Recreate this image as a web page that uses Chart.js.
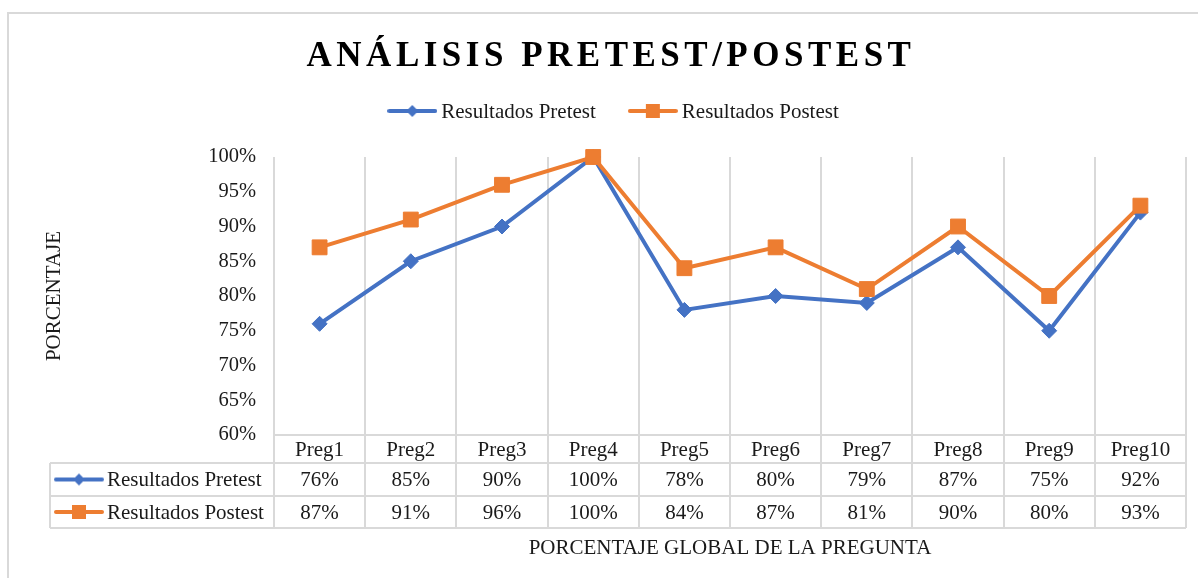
<!DOCTYPE html>
<html>
<head>
<meta charset="utf-8">
<script src="https://cdn.jsdelivr.net/npm/chart.js@4.4.0/dist/chart.umd.min.js"></script>
<style>
  html, body { margin: 0; padding: 0; background: #fff; }
</style>
</head>
<body>
<canvas id="chart" width="1198" height="578"></canvas>
<script>
// data
const preguntas = ["Preg1", "Preg2", "Preg3", "Preg4", "Preg5", "Preg6", "Preg7", "Preg8", "Preg9", "Preg10"];
const pretest = [0.76, 0.85, 0.90, 1.00, 0.78, 0.80, 0.79, 0.87, 0.75, 0.92];
const postest = [0.87, 0.91, 0.96, 1.00, 0.84, 0.87, 0.81, 0.90, 0.80, 0.93];
const serieNames = ["Resultados Pretest", "Resultados Postest"];
const chartTitle = "ANÁLISIS PRETEST/POSTEST";
const yTitle = "PORCENTAJE";
const xTitle = "PORCENTAJE GLOBAL DE LA PREGUNTA";

const BLUE = "#4472C4";
const ORANGE = "#ED7D31";
const GRID = "#d9d9d9";
const TEXT = "#1a1a1a";
const FONT = "'Liberation Serif', 'Times New Roman', serif";

const pct = v => Math.round(v * 100) + "%";

// little line+marker icon like Excel's legend keys
function makeIcon(color, style) {
    const c = document.createElement("canvas");
    c.width = 50; c.height = 16;
    const g = c.getContext("2d");
    g.strokeStyle = color;
    g.lineWidth = 4;
    g.lineCap = "round";
    g.beginPath(); g.moveTo(2, 8); g.lineTo(48, 8); g.stroke();
    g.fillStyle = color;
    g.beginPath();
    if (style === "diamond") {
        g.moveTo(25, 2); g.lineTo(31, 8); g.lineTo(25, 14); g.lineTo(19, 8);
    } else {
        g.rect(18, 1, 14, 14);
    }
    g.closePath(); g.fill();
    return c;
}
const icons = [makeIcon(BLUE, "diamond"), makeIcon(ORANGE, "square")];

const excelExtras = {
    id: "excelExtras",
    beforeDraw(chart) {
        const ctx = chart.ctx;
        ctx.save();
        // chart frame
        ctx.strokeStyle = GRID;
        ctx.lineWidth = 2;
        ctx.strokeRect(8, 13, 1230, 620);

        // title with wide letter spacing
        ctx.fillStyle = "#000";
        ctx.font = "bold 35px " + FONT;
        ctx.letterSpacing = "4.5px";
        ctx.textAlign = "center";
        ctx.textBaseline = "alphabetic";
        ctx.fillText(chartTitle, 611, 66);
        ctx.letterSpacing = "0px";

        // legend
        ctx.font = "21px " + FONT;
        ctx.fillStyle = TEXT;
        ctx.textAlign = "left";
        ctx.textBaseline = "middle";
        const w0 = ctx.measureText(serieNames[0]).width;
        const w1 = ctx.measureText(serieNames[1]).width;
        const total = 50 + 4 + w0 + 32 + 50 + 4 + w1;
        let x = 613 - total / 2;
        const ly = 111;
        ctx.drawImage(icons[0], x, ly - 8);
        ctx.fillText(serieNames[0], x + 54, ly + 1);
        x += 54 + w0 + 32;
        ctx.drawImage(icons[1], x, ly - 8);
        ctx.fillText(serieNames[1], x + 54, ly + 1);
        ctx.restore();
    },
    afterDraw(chart) {
        const ctx = chart.ctx;
        const xs = chart.scales.x;
        const area = chart.chartArea;
        const rowH = [area.bottom, 463, 496, 528];
        const tableLeft = 50;
        ctx.save();
        ctx.strokeStyle = GRID;
        ctx.lineWidth = 2;
        ctx.beginPath();
        for (let r = 1; r < rowH.length; r++) {
            ctx.moveTo(tableLeft, rowH[r]);
            ctx.lineTo(area.right, rowH[r]);
        }
        ctx.moveTo(tableLeft, rowH[1]);
        ctx.lineTo(tableLeft, rowH[3]);
        ctx.stroke();

        ctx.fillStyle = TEXT;
        ctx.font = "21px " + FONT;
        ctx.textAlign = "center";
        ctx.textBaseline = "middle";
        preguntas.forEach((p, i) => {
            const cx = xs.getPixelForValue(i);
            ctx.fillText(p, cx, (rowH[0] + rowH[1]) / 2 + 1);
            ctx.fillText(pct(pretest[i]), cx, (rowH[1] + rowH[2]) / 2 + 1);
            ctx.fillText(pct(postest[i]), cx, (rowH[2] + rowH[3]) / 2 + 1);
        });
        ctx.textAlign = "left";
        for (let s = 0; s < 2; s++) {
            const cy = (rowH[s + 1] + rowH[s + 2]) / 2;
            ctx.drawImage(icons[s], tableLeft + 4, cy - 8);
            ctx.fillText(serieNames[s], tableLeft + 57, cy + 1);
        }
        ctx.restore();
    }
};

const chart = new Chart(document.getElementById("chart").getContext("2d"), {
    type: "line",
    data: {
        labels: preguntas,
        datasets: [
            {
                label: serieNames[0],
                data: pretest,
                borderColor: BLUE,
                backgroundColor: BLUE,
                borderWidth: 4,
                pointStyle: "rectRot",
                pointRadius: 7.5,
                pointBorderWidth: 1,
                tension: 0,
                clip: false,
                order: 1
            },
            {
                label: serieNames[1],
                data: postest,
                borderColor: ORANGE,
                backgroundColor: ORANGE,
                borderWidth: 4,
                pointStyle: "rect",
                pointRadius: 10.5,
                pointBorderWidth: 1,
                tension: 0,
                clip: false,
                order: 0
            }
        ]
    },
    options: {
        responsive: false,
        animation: false,
        layout: { padding: { left: 8, right: 12, top: 157, bottom: 0 } },
        plugins: {
            legend: { display: false },
            title: { display: false },
            tooltip: { enabled: false }
        },
        scales: {
            x: {
                offset: true,
                grid: {
                    offset: true,
                    color: GRID,
                    lineWidth: 2,
                    drawTicks: true,
                    tickLength: 93
                },
                border: { display: true, color: GRID, width: 2 },
                ticks: { display: false },
                title: {
                    display: true,
                    text: xTitle,
                    color: TEXT,
                    font: { family: FONT, size: 21 },
                    padding: { top: 0, bottom: 16.5 }
                },
                afterFit: s => { s.height = 143; }
            },
            y: {
                min: 0.6,
                max: 1.0,
                grid: { display: false },
                border: { display: false },
                ticks: {
                    stepSize: 0.05,
                    padding: 10,
                    color: TEXT,
                    font: { family: FONT, size: 20.5 },
                    callback: v => pct(v)
                },
                title: {
                    display: true,
                    text: yTitle,
                    color: TEXT,
                    font: { family: FONT, size: 21 },
                    padding: { top: 33.5, bottom: 0 }
                },
                afterFit: s => { s.width = 266; }
            }
        }
    },
    plugins: [excelExtras]
});
</script>
</body>
</html>
